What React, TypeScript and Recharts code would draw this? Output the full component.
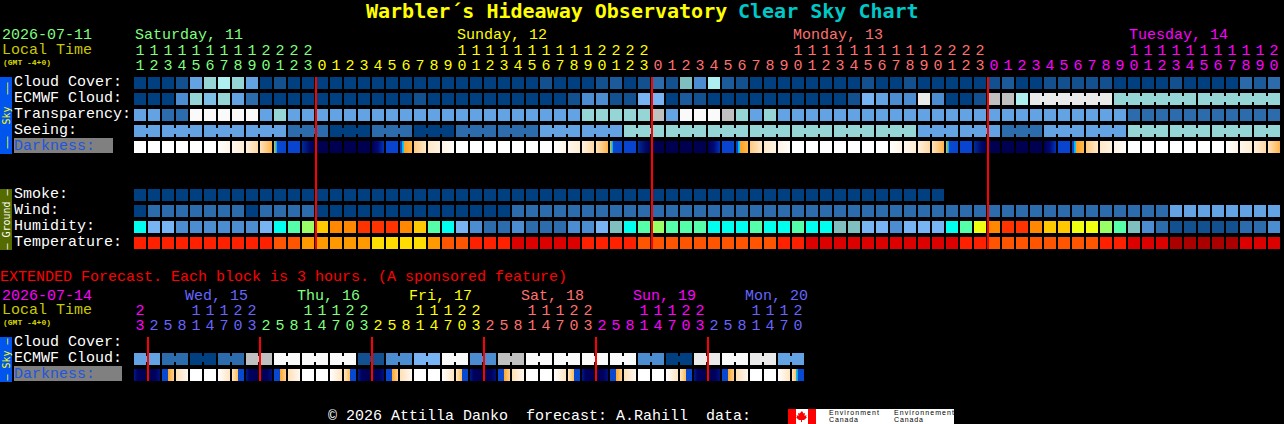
import { ScatterChart, Scatter, XAxis, YAxis } from "recharts";

const MONO = '"Liberation Mono", monospace';
const TITLE_FONT = '"DejaVu Sans Mono", monospace';

// sky / ground conditions, one letter per block, letters joined in a token share one forecast value
const cloudCover = "a a a b e g h g e a b a a a a a a a a a a a a a a a a a a b a a a b j a b c b t d h j b a a a a a a a a b a a b a a a a a b j a a b b b b b a a a a b a a a a k j c".split(" ");
const ecmwfCloud = "a a a d g s g e c a a a a a a a a a a a b a a a a a a a a a a b d d b b f f a j b a a a a a a a a a a b f e d d z d a a b y y h zzzzzz gggggg gggggg".split(" ");
const transparency = "e e c c w w w w w e g e e e e e e e e e e e e e e e e e e e e e g g g g g y e w w w y g e g e e e e e e e e e e e e e e e e e e e e e e e e e c c c c c c c c c c c".split(" ");
const seeing = "ee eee eee eee ccc aaa ccc aaa ccc ccc eee eee ggg ggg ggg ggg ggg ggg ggg eee eee ccc eee eee ggg ggg ggg gg".split(" ");
const darkness = "W W W W W W 1 2 3 4 5 6 7 N N N N 8 6 9 m p q W W W W W W W 1 2 3 4 5 6 7 N N N N 8 6 9 m p q W W W W W W W 1 2 3 4 5 6 7 N N N N 8 6 9 m p q W W W W W W W 1 2 3 4".split(" ");
const smoke = "a a a a a a a a a a a a a a a a a a a a a a a a a a a a a a a a a a a a a a a a a a a a a a a a a a a a a a a a a a".split(" ");
const wind = "a c c c c c c c a c c c c a a a a a a a a a a a a a a c c c c c c c c c c c c c c c c c c c c c c c c c c c c c c c c c c c c c c c c c c c c c c c e e e e e e e e".split(" ");
const humidity = "C f f d d d d d d f C M L A O O R R R O A M C f d c c d c c c d d f t C M L M M M C C C M C C M C C t t f f d f f f C M Y O R R O A A Y Y L M t d c b b b b b c c d".split(" ");
const temperature = "F F F F F F F F F F G G H H H H H I I I I H G G F F F E E E E E F F F F G G G G G G G G G G F F E E E E E E E E E E E F F G G G G G G G G F F E E E D D D D D E E E".split(" ");

// extended forecast, 3 hour blocks
const extEcmwf = "ee cc aa cc yy ww ww ww bb dd ff ww dd yy ww ww ww ww dd aa zz ww zz ee".split(" ");
const extDarkness = "P Q R S W W T U P Q R S W W T U P Q R S W W T U P Q R S W W T U P Q R S W W T U P Q R S W W T V".split(" ");

const hours = [11, 12, 13, 14, 15, 16, 17, 18, 19, 20, 21, 22, 23, 0, 1, 2, 3, 4, 5, 6, 7, 8, 9, 10, 11, 12, 13, 14, 15, 16, 17, 18, 19, 20, 21, 22, 23, 0, 1, 2, 3, 4, 5, 6, 7, 8, 9, 10, 11, 12, 13, 14, 15, 16, 17, 18, 19, 20, 21, 22, 23, 0, 1, 2, 3, 4, 5, 6, 7, 8, 9, 10, 11, 12, 13, 14, 15, 16, 17, 18, 19, 20];
const extHours = [23, 2, 5, 8, 11, 14, 17, 20, 23, 2, 5, 8, 11, 14, 17, 20, 23, 2, 5, 8, 11, 14, 17, 20, 23, 2, 5, 8, 11, 14, 17, 20, 23, 2, 5, 8, 11, 14, 17, 20, 23, 2, 5, 8, 11, 14, 17, 20];

const dayLabels = ["Saturday, 11", "Sunday, 12", "Monday, 13", "Tuesday, 14"];
const dayLabelCells = [0, 23, 47, 71];
const dayFirstCells = [0, 13, 37, 61];
const extDayLabels = ["Wed, 15", "Thu, 16", "Fri, 17", "Sat, 18", "Sun, 19", "Mon, 20"];
const extDayLabelCells = [4, 12, 20, 28, 36, 44];
const extDayFirstCells = [0, 1, 9, 17, 25, 33, 41];
const midnights = [13, 37, 61];
const extMidnights = [1, 9, 17, 25, 33, 41];

const GREEN = "#7fff7f";
const YELLOW = "#ffff00";
const RED = "#ff7070";
const MAGENTA = "#ff00ff";
const BLUE = "#6666ff";
const dayColors = [GREEN, YELLOW, RED, MAGENTA];
const extDayColors = [MAGENTA, BLUE, GREEN, YELLOW, RED, MAGENTA, BLUE];

const palette: Record<string, string> = {
  a: "#003f80", b: "#135090", j: "#1b5b9b", c: "#2c6cac", k: "#2a6aaa", d: "#4c8cd0", e: "#63a3e4", f: "#78b4f4",
  s: "#7cc0e8", g: "#95d5d5", h: "#aef0f0", t: "#7fbfbf", y: "#c0c0c0", z: "#eaeaea", w: "#fafafa",
  C: "#00ffee", M: "#55ffaa", L: "#99ff66", Y: "#eeff11", A: "#ffc800", O: "#ff8800", R: "#ff3300",
  D: "#aa0000", E: "#dd0000", F: "#ff2000", G: "#ff5500", H: "#ff9900", I: "#ffdd00",
};

// colour stops of one darkness block, [offset, colour]
const darkStops: Record<string, [number, string][]> = {
  W: [[0, "#ffffff"], [1, "#ffffff"]],
  N: [[0, "#000050"], [1, "#000050"]],
  "1": [[0, "#ffffff"], [1, "#fff5e6"]],
  "2": [[0, "#fff6ea"], [1, "#ffedd6"]],
  "3": [[0, "#fff0dc"], [1, "#ffd8a4"]],
  "4": [[0, "#ffe2bc"], [1, "#ffb44c"]],
  "5": [[0, "#ffa020"], [0.1, "#ffa020"], [0.1, "#00e0f0"], [0.25, "#00a0f0"], [0.25, "#0848d0"], [1, "#0844d0"]],
  "6": [[0, "#0844d0"], [1, "#0844d0"]],
  "7": [[0, "#002a9a"], [0.6, "#000a68"], [1, "#000058"]],
  "8": [[0, "#000058"], [0.5, "#000a78"], [1, "#0034b8"]],
  "9": [[0, "#0844d0"], [0.15, "#0848d0"], [0.15, "#00a0f0"], [0.35, "#00e0f0"], [0.35, "#ffa020"], [1, "#ffb850"]],
  m: [[0, "#ffc880"], [1, "#ffe8c8"]],
  p: [[0, "#ffe8c8"], [1, "#fff2e0"]],
  q: [[0, "#fff4e4"], [1, "#fffcf8"]],
  P: [[0, "#001a8a"], [0.3, "#000060"], [1, "#000050"]],
  Q: [[0, "#000050"], [0.6, "#000060"], [1, "#00107a"]],
  R: [[0, "#0848d0"], [0.5, "#0848d0"], [0.5, "#ffa828"], [1, "#ffd090"]],
  S: [[0, "#ffe0b8"], [1, "#fff8f0"]],
  T: [[0, "#ffffff"], [1, "#ffe4c0"]],
  U: [[0, "#ffe8c4"], [0.5, "#ffbc58"], [0.5, "#0848d0"], [1, "#0848d0"]],
  V: [[0, "#ffe8c4"], [0.3, "#ffc870"], [0.3, "#20d0c0"], [0.5, "#00a0f0"], [0.5, "#0848d0"], [1, "#0848d0"]],
};

const rowLabels = ["Cloud Cover:", "ECMWF Cloud:", "Transparency:", "Seeing:", "Darkness:", "", "", "Smoke:", "Wind:", "Humidity:", "Temperature:"];
const extRowLabels = ["Cloud Cover:", "ECMWF Cloud:", "Darkness:"];

function toCells(tokens: string[], y: number) {
  const cells: { x: number; y: number; v: string; joined: boolean }[] = [];
  tokens.forEach((tok) => {
    tok.split("").forEach((v, i) => {
      cells.push({ x: cells.length, y, v, joined: i < tok.length - 1 });
    });
  });
  return cells;
}

function Block(props: any) {
  const { cx, cy, payload } = props;
  const fill = palette[payload.v];
  return (
    <g shapeRendering="crispEdges">
      <rect x={cx} y={cy - 6} width={12} height={12} fill={fill} />
      {payload.joined && <rect x={cx + 12} y={cy - 3} width={2} height={6} fill={fill} />}
    </g>
  );
}

function DarkBlock(props: any) {
  const { cx, cy, payload } = props;
  return <rect x={cx} y={cy - 6} width={12} height={12} fill={`url(#dk-${payload.v})`} shapeRendering="crispEdges" />;
}

// vertical day separator, a two point series so it paints above the blocks
function dayLine(x: number, top: number, bottom: number) {
  return (
    <Scatter
      key={x}
      data={[{ x, y: top }, { x, y: bottom }]}
      line={{ stroke: "#ff0000", strokeWidth: 2 }}
      shape={() => null}
      isAnimationActive={false}
    />
  );
}

function colorFor(i: number, firsts: number[], colors: string[]) {
  let c = colors[0];
  firsts.forEach((f, n) => {
    if (i >= f) c = colors[n];
  });
  return c;
}

const hourTick = (hrs: number[], firsts: number[], colors: string[], labels: string[], labelCells: number[], labelDx: number, labelDy: number) => (props: any) => {
  const { x, y, payload } = props;
  const i = payload.value;
  const h = hrs[i];
  const color = colorFor(i, firsts, colors);
  const l = labelCells.indexOf(i);
  return (
    <g fontFamily={MONO} fontSize={15} fill={color}>
      {l >= 0 && (
        <text x={x + labelDx} y={y + labelDy}>
          {labels[l]}
        </text>
      )}
      {h >= 10 && (
        <text x={x + 6} y={y - 20} textAnchor="middle">
          {Math.floor(h / 10)}
        </text>
      )}
      <text x={x + 6} y={y - 5} textAnchor="middle">
        {h % 10}
      </text>
    </g>
  );
};

const rowTick = (labels: string[], darkWidth: number) => (props: any) => {
  const { y, payload } = props;
  const label = labels[payload.value];
  const dark = label === "Darkness:";
  return (
    <g fontFamily={MONO} fontSize={15}>
      {dark && <rect x={14} y={y - 9} width={darkWidth} height={15} fill="#808080" shapeRendering="crispEdges" />}
      <text x={14} y={y + 3} fill={dark ? "#2255dd" : "#ffffff"}>
        {label}
      </text>
    </g>
  );
};

function DarkDefs() {
  return (
    <defs>
      {Object.keys(darkStops).map((k) => (
        <linearGradient key={k} id={`dk-${k}`} x1="0" y1="0" x2="1" y2="0">
          {darkStops[k].map(([o, c], i) => (
            <stop key={i} offset={o} stopColor={c} />
          ))}
        </linearGradient>
      ))}
    </defs>
  );
}

function MainChart() {
  const ticks = hours.map((_, i) => i);
  return (
    <ScatterChart width={1284} height={260} margin={{ top: 0, right: 2, bottom: 9, left: 0 }}>
      <DarkDefs />
      <XAxis
        type="number"
        dataKey="x"
        orientation="top"
        domain={[0, 82]}
        ticks={ticks}
        interval={0}
        height={75}
        axisLine={false}
        tickLine={false}
        tickSize={0}
        tickMargin={0}
        tick={hourTick(hours, dayFirstCells, dayColors, dayLabels, dayLabelCells, 1, -36)}
      />
      <YAxis
        type="number"
        dataKey="y"
        reversed
        domain={[-0.5, 10.5]}
        ticks={[0, 1, 2, 3, 4, 7, 8, 9, 10]}
        interval={0}
        width={134}
        axisLine={false}
        tickLine={false}
        tick={rowTick(rowLabels, 99)}
      />
      <Scatter data={toCells(cloudCover, 0)} shape={Block} isAnimationActive={false} />
      <Scatter data={toCells(ecmwfCloud, 1)} shape={Block} isAnimationActive={false} />
      <Scatter data={toCells(transparency, 2)} shape={Block} isAnimationActive={false} />
      <Scatter data={toCells(seeing, 3)} shape={Block} isAnimationActive={false} />
      <Scatter data={toCells(darkness, 4)} shape={DarkBlock} isAnimationActive={false} />
      <Scatter data={toCells(smoke, 7)} shape={Block} isAnimationActive={false} />
      <Scatter data={toCells(wind, 8)} shape={Block} isAnimationActive={false} />
      <Scatter data={toCells(humidity, 9)} shape={Block} isAnimationActive={false} />
      <Scatter data={toCells(temperature, 10)} shape={Block} isAnimationActive={false} />
      {midnights.map((m) => dayLine(m, -0.375, 10.375))}
    </ScatterChart>
  );
}

function ExtendedChart() {
  const ticks = extHours.map((_, i) => i);
  return (
    <ScatterChart width={1284} height={100} margin={{ top: 0, right: 478, bottom: 2, left: 0 }}>
      <DarkDefs />
      <XAxis
        type="number"
        dataKey="x"
        orientation="top"
        domain={[0, 48]}
        ticks={ticks}
        interval={0}
        height={50}
        axisLine={false}
        tickLine={false}
        tickSize={0}
        tickMargin={0}
        tick={hourTick(extHours, extDayFirstCells, extDayColors, extDayLabels, extDayLabelCells, -5, -35)}
      />
      <YAxis
        type="number"
        dataKey="y"
        reversed
        domain={[-0.5, 2.5]}
        ticks={[0, 1, 2]}
        interval={0}
        width={134}
        axisLine={false}
        tickLine={false}
        tick={rowTick(extRowLabels, 108)}
      />
      <Scatter data={toCells(extEcmwf, 1)} shape={Block} isAnimationActive={false} />
      <Scatter data={toCells(extDarkness, 2)} shape={DarkBlock} isAnimationActive={false} />
      {extMidnights.map((m) => dayLine(m, -0.375, 2.375))}
    </ScatterChart>
  );
}

function SideTab({ y, h, fill, color, label }: { y: number; h: number; fill: string; color: string; label: string }) {
  const cy = y + h / 2;
  return (
    <g>
      <rect x={0} y={y} width={12} height={h} fill={fill} shapeRendering="crispEdges" />
      <text
        transform={`translate(9.5 ${cy}) rotate(-90)`}
        textAnchor="middle"
        fontFamily={TITLE_FONT}
        fontSize={10}
        fill={color}
        style={{ whiteSpace: "pre" }}
      >
        {label}
      </text>
    </g>
  );
}

// page furniture that is not part of a plot: title, date block, side tabs, footer
function Furniture() {
  return (
    <svg width={1284} height={424} style={{ position: "absolute", left: 0, top: 0 }}>
      <g fontFamily={TITLE_FONT} fontSize={20} fontWeight="bold">
        <text x={366} y={18} fill="#ffff00">
          Warbler´s Hideaway Observatory
        </text>
        <text x={738} y={18} fill="#00c8c8">
          Clear Sky Chart
        </text>
      </g>
      <g fontFamily={MONO} fontSize={15}>
        <text x={2} y={39} fill={GREEN}>2026-07-11</text>
        <text x={2} y={54} fill="#c8c800">Local Time</text>
        <text x={0} y={281} fill="#ff0000">EXTENDED Forecast. Each block is 3 hours. (A sponsored feature)</text>
        <text x={2} y={300} fill={MAGENTA}>2026-07-14</text>
        <text x={2} y={314} fill="#c8c800">Local Time</text>
        <text x={328} y={420} fill="#ffffff" style={{ whiteSpace: "pre" }}>© 2026 Attilla Danko  forecast: A.Rahill  data:</text>
      </g>
      <g fontFamily={MONO} fontSize={8} fontWeight="bold" fill="#d8d800">
        <text x={3} y={65}>(GMT -4+0)</text>
        <text x={3} y={325}>(GMT -4+0)</text>
      </g>
      <SideTab y={77} h={77} fill="#0055ee" color="#ffff00" label="––  Sky  ––" />
      <SideTab y={189} h={61} fill="#556b00" color="#ffffff" label="– Ground –" />
      <SideTab y={337} h={45} fill="#0055ee" color="#ffff00" label="– Sky –" />
      <g>
        <rect x={788} y={409} width={166} height={15} fill="#ffffff" shapeRendering="crispEdges" />
        <rect x={788} y={409} width={8} height={15} fill="#ff0000" shapeRendering="crispEdges" />
        <rect x={808} y={409} width={8} height={15} fill="#ff0000" shapeRendering="crispEdges" />
        <path d="M802 411l1.5 2.5 1.5-.5-.5 3 2-1-.5 2 1 .5-3 2.5h-2v2h-1v-2h-2l-3-2.5 1-.5-.5-2 2 1-.5-3 1.5.5z" fill="#ff0000" />
        <g fontFamily='"Liberation Sans", sans-serif' fontSize={7} fill="#000000">
          <text x={829} y={415} textLength={50}>Environment</text>
          <text x={829} y={422} textLength={29}>Canada</text>
          <text x={894} y={415} textLength={60}>Environnement</text>
          <text x={894} y={422} textLength={29}>Canada</text>
        </g>
      </g>
    </svg>
  );
}

export default function App() {
  return (
    <div style={{ position: "fixed", left: 0, top: 0, width: 1284, height: 424, background: "#000000", overflow: "hidden" }}>
      <Furniture />
      <div style={{ position: "absolute", left: 0, top: 0 }}>
        <MainChart />
      </div>
      <div style={{ position: "absolute", left: 0, top: 285 }}>
        <ExtendedChart />
      </div>
    </div>
  );
}
